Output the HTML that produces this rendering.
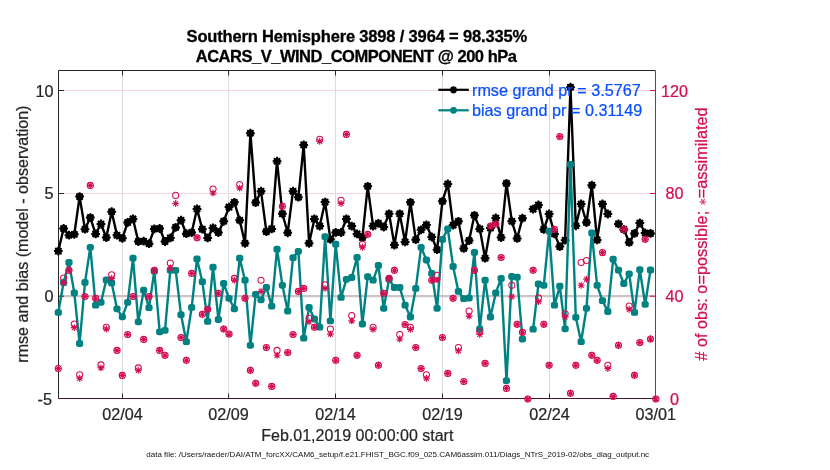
<!DOCTYPE html><html><head><meta charset="utf-8"><title>obs diag</title>
<style>html,body{margin:0;padding:0;background:#fff}svg{display:block}text{font-family:"Liberation Sans",sans-serif}</style></head><body>
<svg width="830" height="470" viewBox="0 0 830 470">
<rect width="830" height="470" fill="#fff"/>
<line x1="122.50" y1="70.5" x2="122.50" y2="398.5" stroke="#dcdcdc" stroke-width="1"/><line x1="228.60" y1="70.5" x2="228.60" y2="398.5" stroke="#dcdcdc" stroke-width="1"/><line x1="335.50" y1="70.5" x2="335.50" y2="398.5" stroke="#dcdcdc" stroke-width="1"/><line x1="442.50" y1="70.5" x2="442.50" y2="398.5" stroke="#dcdcdc" stroke-width="1"/><line x1="549.50" y1="70.5" x2="549.50" y2="398.5" stroke="#dcdcdc" stroke-width="1"/><line x1="58.5" y1="90.5" x2="655.5" y2="90.5" stroke="#f7d3df" stroke-width="1"/><line x1="58.5" y1="193.5" x2="655.5" y2="193.5" stroke="#f7d3df" stroke-width="1"/>
<line x1="58.5" y1="296.1" x2="655.5" y2="296.1" stroke="#cdc3c7" stroke-width="2.2"/>
<path d="M58.5 398.5V70.5H655.5" stroke="#262626" stroke-width="1" fill="none"/>
<line x1="58.5" y1="90.5" x2="64.0" y2="90.5" stroke="#262626" stroke-width="1"/>
<line x1="58.5" y1="193.5" x2="64.0" y2="193.5" stroke="#262626" stroke-width="1"/>
<line x1="58.5" y1="296.2" x2="64.0" y2="296.2" stroke="#262626" stroke-width="1"/>
<line x1="122.50" y1="70.5" x2="122.50" y2="75.5" stroke="#262626" stroke-width="1"/>
<line x1="122.50" y1="398.5" x2="122.50" y2="393.5" stroke="#262626" stroke-width="1"/>
<line x1="228.60" y1="70.5" x2="228.60" y2="75.5" stroke="#262626" stroke-width="1"/>
<line x1="228.60" y1="398.5" x2="228.60" y2="393.5" stroke="#262626" stroke-width="1"/>
<line x1="335.50" y1="70.5" x2="335.50" y2="75.5" stroke="#262626" stroke-width="1"/>
<line x1="335.50" y1="398.5" x2="335.50" y2="393.5" stroke="#262626" stroke-width="1"/>
<line x1="442.50" y1="70.5" x2="442.50" y2="75.5" stroke="#262626" stroke-width="1"/>
<line x1="442.50" y1="398.5" x2="442.50" y2="393.5" stroke="#262626" stroke-width="1"/>
<line x1="549.50" y1="70.5" x2="549.50" y2="75.5" stroke="#262626" stroke-width="1"/>
<line x1="549.50" y1="398.5" x2="549.50" y2="393.5" stroke="#262626" stroke-width="1"/>
<g><path d="M58.3 251.1L63.6 228.5L69.0 235.2L74.3 234.3L79.6 196.6L85.0 229.2L90.3 217.6L95.6 233.9L101.0 224.0L106.3 237.5L111.7 211.7L117.0 235.2L122.3 238.3L127.7 222.5L133.0 218.9L138.3 241.5L143.7 241.2L149.0 243.7L154.3 228.9L159.7 228.5L165.0 241.5L170.3 237.9L175.7 227.4L181.0 220.2L186.3 233.7L191.7 232.5L197.0 208.9L202.3 229.2L207.7 237.9L213.0 227.9L218.4 232.5L223.7 221.3L229.0 207.1L234.4 202.3L239.7 220.2L245.0 243.3L250.4 133.2L255.7 202.6L261.0 191.2L266.4 231.6L271.7 228.9L277.0 161.2L282.4 213.8L287.7 232.8L293.0 191.2L298.4 197.2L303.7 144.9L309.1 243.3L314.4 218.9L319.7 226.1L325.1 202.1L330.4 239.3L335.7 232.5L341.1 232.5L346.4 218.9L351.7 226.1L357.1 233.9L362.4 237.5L367.7 186.3L373.1 226.1L378.4 223.4L383.7 227.0L389.1 213.8L394.4 245.1L399.7 213.8L405.1 241.9L410.4 202.3L415.8 239.7L421.1 229.8L426.4 224.9L431.8 237.0L437.1 249.7L442.4 201.3L447.8 184.0L453.1 225.2L458.4 221.3L463.8 248.4L469.1 240.6L474.4 215.3L479.8 228.9L485.1 258.2L490.4 228.0L495.8 218.0L501.1 237.5L506.5 183.4L511.8 221.2L517.1 238.4L522.5 218.2M533.1 209.1L538.5 205.0L543.8 229.4L549.1 214.0L554.5 233.9L559.8 246.6L565.1 240.2L570.5 87.2L575.8 225.8L581.1 204.0L586.5 222.5L591.8 185.2L597.1 239.9L602.5 204.0L607.8 214.0M618.5 223.9L623.8 229.4L629.2 242.4L634.5 233.4L639.8 223.0L645.2 233.0L650.5 233.4" stroke="#000" stroke-width="2.4" fill="none" stroke-linejoin="round"/>
<path d="M53.90 251.10H62.70M58.30 246.70V255.50M55.19 247.99L61.41 254.21M55.19 254.21L61.41 247.99" stroke="#000" stroke-width="2.0" fill="none"/><circle cx="58.30" cy="251.10" r="3.52" fill="#000"/>
<path d="M59.24 228.50H68.04M63.64 224.10V232.90M60.52 225.39L66.75 231.61M60.52 231.61L66.75 225.39" stroke="#000" stroke-width="2.0" fill="none"/><circle cx="63.64" cy="228.50" r="3.52" fill="#000"/>
<path d="M64.57 235.20H73.37M68.97 230.80V239.60M65.86 232.09L72.08 238.31M65.86 238.31L72.08 232.09" stroke="#000" stroke-width="2.0" fill="none"/><circle cx="68.97" cy="235.20" r="3.52" fill="#000"/>
<path d="M69.91 234.30H78.71M74.31 229.90V238.70M71.19 231.19L77.42 237.41M71.19 237.41L77.42 231.19" stroke="#000" stroke-width="2.0" fill="none"/><circle cx="74.31" cy="234.30" r="3.52" fill="#000"/>
<path d="M75.24 196.60H84.04M79.64 192.20V201.00M76.53 193.49L82.75 199.71M76.53 199.71L82.75 193.49" stroke="#000" stroke-width="2.0" fill="none"/><circle cx="79.64" cy="196.60" r="3.52" fill="#000"/>
<path d="M80.58 229.20H89.38M84.98 224.80V233.60M81.86 226.09L88.09 232.31M81.86 232.31L88.09 226.09" stroke="#000" stroke-width="2.0" fill="none"/><circle cx="84.98" cy="229.20" r="3.52" fill="#000"/>
<path d="M85.91 217.60H94.71M90.31 213.20V222.00M87.20 214.49L93.42 220.71M87.20 220.71L93.42 214.49" stroke="#000" stroke-width="2.0" fill="none"/><circle cx="90.31" cy="217.60" r="3.52" fill="#000"/>
<path d="M91.25 233.90H100.05M95.65 229.50V238.30M92.53 230.79L98.76 237.01M92.53 237.01L98.76 230.79" stroke="#000" stroke-width="2.0" fill="none"/><circle cx="95.65" cy="233.90" r="3.52" fill="#000"/>
<path d="M96.58 224.00H105.38M100.98 219.60V228.40M97.87 220.89L104.09 227.11M97.87 227.11L104.09 220.89" stroke="#000" stroke-width="2.0" fill="none"/><circle cx="100.98" cy="224.00" r="3.52" fill="#000"/>
<path d="M101.92 237.50H110.72M106.32 233.10V241.90M103.20 234.39L109.43 240.61M103.20 240.61L109.43 234.39" stroke="#000" stroke-width="2.0" fill="none"/><circle cx="106.32" cy="237.50" r="3.52" fill="#000"/>
<path d="M107.25 211.70H116.05M111.65 207.30V216.10M108.54 208.59L114.76 214.81M108.54 214.81L114.76 208.59" stroke="#000" stroke-width="2.0" fill="none"/><circle cx="111.65" cy="211.70" r="3.52" fill="#000"/>
<path d="M112.59 235.20H121.39M116.99 230.80V239.60M113.88 232.09L120.10 238.31M113.88 238.31L120.10 232.09" stroke="#000" stroke-width="2.0" fill="none"/><circle cx="116.99" cy="235.20" r="3.52" fill="#000"/>
<path d="M117.92 238.30H126.72M122.32 233.90V242.70M119.21 235.19L125.43 241.41M119.21 241.41L125.43 235.19" stroke="#000" stroke-width="2.0" fill="none"/><circle cx="122.32" cy="238.30" r="3.52" fill="#000"/>
<path d="M123.26 222.50H132.06M127.66 218.10V226.90M124.55 219.39L130.77 225.61M124.55 225.61L130.77 219.39" stroke="#000" stroke-width="2.0" fill="none"/><circle cx="127.66" cy="222.50" r="3.52" fill="#000"/>
<path d="M128.59 218.90H137.39M132.99 214.50V223.30M129.88 215.79L136.10 222.01M129.88 222.01L136.10 215.79" stroke="#000" stroke-width="2.0" fill="none"/><circle cx="132.99" cy="218.90" r="3.52" fill="#000"/>
<path d="M133.93 241.50H142.73M138.33 237.10V245.90M135.22 238.39L141.44 244.61M135.22 244.61L141.44 238.39" stroke="#000" stroke-width="2.0" fill="none"/><circle cx="138.33" cy="241.50" r="3.52" fill="#000"/>
<path d="M139.26 241.20H148.06M143.66 236.80V245.60M140.55 238.09L146.77 244.31M140.55 244.31L146.77 238.09" stroke="#000" stroke-width="2.0" fill="none"/><circle cx="143.66" cy="241.20" r="3.52" fill="#000"/>
<path d="M144.60 243.70H153.40M149.00 239.30V248.10M145.89 240.59L152.11 246.81M145.89 246.81L152.11 240.59" stroke="#000" stroke-width="2.0" fill="none"/><circle cx="149.00" cy="243.70" r="3.52" fill="#000"/>
<path d="M149.93 228.90H158.73M154.33 224.50V233.30M151.22 225.79L157.44 232.01M151.22 232.01L157.44 225.79" stroke="#000" stroke-width="2.0" fill="none"/><circle cx="154.33" cy="228.90" r="3.52" fill="#000"/>
<path d="M155.27 228.50H164.07M159.67 224.10V232.90M156.56 225.39L162.78 231.61M156.56 231.61L162.78 225.39" stroke="#000" stroke-width="2.0" fill="none"/><circle cx="159.67" cy="228.50" r="3.52" fill="#000"/>
<path d="M160.60 241.50H169.40M165.00 237.10V245.90M161.89 238.39L168.11 244.61M161.89 244.61L168.11 238.39" stroke="#000" stroke-width="2.0" fill="none"/><circle cx="165.00" cy="241.50" r="3.52" fill="#000"/>
<path d="M165.94 237.90H174.74M170.34 233.50V242.30M167.23 234.79L173.45 241.01M167.23 241.01L173.45 234.79" stroke="#000" stroke-width="2.0" fill="none"/><circle cx="170.34" cy="237.90" r="3.52" fill="#000"/>
<path d="M171.27 227.40H180.07M175.67 223.00V231.80M172.56 224.29L178.78 230.51M172.56 230.51L178.78 224.29" stroke="#000" stroke-width="2.0" fill="none"/><circle cx="175.67" cy="227.40" r="3.52" fill="#000"/>
<path d="M176.61 220.20H185.41M181.01 215.80V224.60M177.90 217.09L184.12 223.31M177.90 223.31L184.12 217.09" stroke="#000" stroke-width="2.0" fill="none"/><circle cx="181.01" cy="220.20" r="3.52" fill="#000"/>
<path d="M181.94 233.70H190.74M186.34 229.30V238.10M183.23 230.59L189.45 236.81M183.23 236.81L189.45 230.59" stroke="#000" stroke-width="2.0" fill="none"/><circle cx="186.34" cy="233.70" r="3.52" fill="#000"/>
<path d="M187.28 232.50H196.08M191.68 228.10V236.90M188.57 229.39L194.79 235.61M188.57 235.61L194.79 229.39" stroke="#000" stroke-width="2.0" fill="none"/><circle cx="191.68" cy="232.50" r="3.52" fill="#000"/>
<path d="M192.61 208.90H201.41M197.01 204.50V213.30M193.90 205.79L200.12 212.01M193.90 212.01L200.12 205.79" stroke="#000" stroke-width="2.0" fill="none"/><circle cx="197.01" cy="208.90" r="3.52" fill="#000"/>
<path d="M197.95 229.20H206.75M202.35 224.80V233.60M199.24 226.09L205.46 232.31M199.24 232.31L205.46 226.09" stroke="#000" stroke-width="2.0" fill="none"/><circle cx="202.35" cy="229.20" r="3.52" fill="#000"/>
<path d="M203.28 237.90H212.08M207.68 233.50V242.30M204.57 234.79L210.80 241.01M204.57 241.01L210.80 234.79" stroke="#000" stroke-width="2.0" fill="none"/><circle cx="207.68" cy="237.90" r="3.52" fill="#000"/>
<path d="M208.62 227.90H217.42M213.02 223.50V232.30M209.91 224.79L216.13 231.01M209.91 231.01L216.13 224.79" stroke="#000" stroke-width="2.0" fill="none"/><circle cx="213.02" cy="227.90" r="3.52" fill="#000"/>
<path d="M213.95 232.50H222.75M218.35 228.10V236.90M215.24 229.39L221.47 235.61M215.24 235.61L221.47 229.39" stroke="#000" stroke-width="2.0" fill="none"/><circle cx="218.35" cy="232.50" r="3.52" fill="#000"/>
<path d="M219.29 221.30H228.09M223.69 216.90V225.70M220.58 218.19L226.80 224.41M220.58 224.41L226.80 218.19" stroke="#000" stroke-width="2.0" fill="none"/><circle cx="223.69" cy="221.30" r="3.52" fill="#000"/>
<path d="M224.62 207.10H233.42M229.02 202.70V211.50M225.91 203.99L232.14 210.21M225.91 210.21L232.14 203.99" stroke="#000" stroke-width="2.0" fill="none"/><circle cx="229.02" cy="207.10" r="3.52" fill="#000"/>
<path d="M229.96 202.30H238.76M234.36 197.90V206.70M231.25 199.19L237.47 205.41M231.25 205.41L237.47 199.19" stroke="#000" stroke-width="2.0" fill="none"/><circle cx="234.36" cy="202.30" r="3.52" fill="#000"/>
<path d="M235.29 220.20H244.09M239.69 215.80V224.60M236.58 217.09L242.81 223.31M236.58 223.31L242.81 217.09" stroke="#000" stroke-width="2.0" fill="none"/><circle cx="239.69" cy="220.20" r="3.52" fill="#000"/>
<path d="M240.63 243.30H249.43M245.03 238.90V247.70M241.92 240.19L248.14 246.41M241.92 246.41L248.14 240.19" stroke="#000" stroke-width="2.0" fill="none"/><circle cx="245.03" cy="243.30" r="3.52" fill="#000"/>
<path d="M245.96 133.20H254.76M250.36 128.80V137.60M247.25 130.09L253.48 136.31M247.25 136.31L253.48 130.09" stroke="#000" stroke-width="2.0" fill="none"/><circle cx="250.36" cy="133.20" r="3.52" fill="#000"/>
<path d="M251.30 202.60H260.10M255.70 198.20V207.00M252.59 199.49L258.81 205.71M252.59 205.71L258.81 199.49" stroke="#000" stroke-width="2.0" fill="none"/><circle cx="255.70" cy="202.60" r="3.52" fill="#000"/>
<path d="M256.64 191.20H265.44M261.04 186.80V195.60M257.92 188.09L264.15 194.31M257.92 194.31L264.15 188.09" stroke="#000" stroke-width="2.0" fill="none"/><circle cx="261.04" cy="191.20" r="3.52" fill="#000"/>
<path d="M261.97 231.60H270.77M266.37 227.20V236.00M263.26 228.49L269.48 234.71M263.26 234.71L269.48 228.49" stroke="#000" stroke-width="2.0" fill="none"/><circle cx="266.37" cy="231.60" r="3.52" fill="#000"/>
<path d="M267.31 228.90H276.11M271.71 224.50V233.30M268.59 225.79L274.82 232.01M268.59 232.01L274.82 225.79" stroke="#000" stroke-width="2.0" fill="none"/><circle cx="271.71" cy="228.90" r="3.52" fill="#000"/>
<path d="M272.64 161.20H281.44M277.04 156.80V165.60M273.93 158.09L280.15 164.31M273.93 164.31L280.15 158.09" stroke="#000" stroke-width="2.0" fill="none"/><circle cx="277.04" cy="161.20" r="3.52" fill="#000"/>
<path d="M277.98 213.80H286.78M282.38 209.40V218.20M279.26 210.69L285.49 216.91M279.26 216.91L285.49 210.69" stroke="#000" stroke-width="2.0" fill="none"/><circle cx="282.38" cy="213.80" r="3.52" fill="#000"/>
<path d="M283.31 232.80H292.11M287.71 228.40V237.20M284.60 229.69L290.82 235.91M284.60 235.91L290.82 229.69" stroke="#000" stroke-width="2.0" fill="none"/><circle cx="287.71" cy="232.80" r="3.52" fill="#000"/>
<path d="M288.65 191.20H297.45M293.05 186.80V195.60M289.93 188.09L296.16 194.31M289.93 194.31L296.16 188.09" stroke="#000" stroke-width="2.0" fill="none"/><circle cx="293.05" cy="191.20" r="3.52" fill="#000"/>
<path d="M293.98 197.20H302.78M298.38 192.80V201.60M295.27 194.09L301.49 200.31M295.27 200.31L301.49 194.09" stroke="#000" stroke-width="2.0" fill="none"/><circle cx="298.38" cy="197.20" r="3.52" fill="#000"/>
<path d="M299.32 144.90H308.12M303.72 140.50V149.30M300.60 141.79L306.83 148.01M300.60 148.01L306.83 141.79" stroke="#000" stroke-width="2.0" fill="none"/><circle cx="303.72" cy="144.90" r="3.52" fill="#000"/>
<path d="M304.65 243.30H313.45M309.05 238.90V247.70M305.94 240.19L312.16 246.41M305.94 246.41L312.16 240.19" stroke="#000" stroke-width="2.0" fill="none"/><circle cx="309.05" cy="243.30" r="3.52" fill="#000"/>
<path d="M309.99 218.90H318.79M314.39 214.50V223.30M311.28 215.79L317.50 222.01M311.28 222.01L317.50 215.79" stroke="#000" stroke-width="2.0" fill="none"/><circle cx="314.39" cy="218.90" r="3.52" fill="#000"/>
<path d="M315.32 226.10H324.12M319.72 221.70V230.50M316.61 222.99L322.83 229.21M316.61 229.21L322.83 222.99" stroke="#000" stroke-width="2.0" fill="none"/><circle cx="319.72" cy="226.10" r="3.52" fill="#000"/>
<path d="M320.66 202.10H329.46M325.06 197.70V206.50M321.95 198.99L328.17 205.21M321.95 205.21L328.17 198.99" stroke="#000" stroke-width="2.0" fill="none"/><circle cx="325.06" cy="202.10" r="3.52" fill="#000"/>
<path d="M325.99 239.30H334.79M330.39 234.90V243.70M327.28 236.19L333.50 242.41M327.28 242.41L333.50 236.19" stroke="#000" stroke-width="2.0" fill="none"/><circle cx="330.39" cy="239.30" r="3.52" fill="#000"/>
<path d="M331.33 232.50H340.13M335.73 228.10V236.90M332.62 229.39L338.84 235.61M332.62 235.61L338.84 229.39" stroke="#000" stroke-width="2.0" fill="none"/><circle cx="335.73" cy="232.50" r="3.52" fill="#000"/>
<path d="M336.66 232.50H345.46M341.06 228.10V236.90M337.95 229.39L344.17 235.61M337.95 235.61L344.17 229.39" stroke="#000" stroke-width="2.0" fill="none"/><circle cx="341.06" cy="232.50" r="3.52" fill="#000"/>
<path d="M342.00 218.90H350.80M346.40 214.50V223.30M343.29 215.79L349.51 222.01M343.29 222.01L349.51 215.79" stroke="#000" stroke-width="2.0" fill="none"/><circle cx="346.40" cy="218.90" r="3.52" fill="#000"/>
<path d="M347.33 226.10H356.13M351.73 221.70V230.50M348.62 222.99L354.84 229.21M348.62 229.21L354.84 222.99" stroke="#000" stroke-width="2.0" fill="none"/><circle cx="351.73" cy="226.10" r="3.52" fill="#000"/>
<path d="M352.67 233.90H361.47M357.07 229.50V238.30M353.96 230.79L360.18 237.01M353.96 237.01L360.18 230.79" stroke="#000" stroke-width="2.0" fill="none"/><circle cx="357.07" cy="233.90" r="3.52" fill="#000"/>
<path d="M358.00 237.50H366.80M362.40 233.10V241.90M359.29 234.39L365.51 240.61M359.29 240.61L365.51 234.39" stroke="#000" stroke-width="2.0" fill="none"/><circle cx="362.40" cy="237.50" r="3.52" fill="#000"/>
<path d="M363.34 186.30H372.14M367.74 181.90V190.70M364.63 183.19L370.85 189.41M364.63 189.41L370.85 183.19" stroke="#000" stroke-width="2.0" fill="none"/><circle cx="367.74" cy="186.30" r="3.52" fill="#000"/>
<path d="M368.67 226.10H377.47M373.07 221.70V230.50M369.96 222.99L376.18 229.21M369.96 229.21L376.18 222.99" stroke="#000" stroke-width="2.0" fill="none"/><circle cx="373.07" cy="226.10" r="3.52" fill="#000"/>
<path d="M374.01 223.40H382.81M378.41 219.00V227.80M375.30 220.29L381.52 226.51M375.30 226.51L381.52 220.29" stroke="#000" stroke-width="2.0" fill="none"/><circle cx="378.41" cy="223.40" r="3.52" fill="#000"/>
<path d="M379.34 227.00H388.14M383.74 222.60V231.40M380.63 223.89L386.85 230.11M380.63 230.11L386.85 223.89" stroke="#000" stroke-width="2.0" fill="none"/><circle cx="383.74" cy="227.00" r="3.52" fill="#000"/>
<path d="M384.68 213.80H393.48M389.08 209.40V218.20M385.97 210.69L392.19 216.91M385.97 216.91L392.19 210.69" stroke="#000" stroke-width="2.0" fill="none"/><circle cx="389.08" cy="213.80" r="3.52" fill="#000"/>
<path d="M390.01 245.10H398.81M394.41 240.70V249.50M391.30 241.99L397.52 248.21M391.30 248.21L397.52 241.99" stroke="#000" stroke-width="2.0" fill="none"/><circle cx="394.41" cy="245.10" r="3.52" fill="#000"/>
<path d="M395.35 213.80H404.15M399.75 209.40V218.20M396.64 210.69L402.86 216.91M396.64 216.91L402.86 210.69" stroke="#000" stroke-width="2.0" fill="none"/><circle cx="399.75" cy="213.80" r="3.52" fill="#000"/>
<path d="M400.68 241.90H409.48M405.08 237.50V246.30M401.97 238.79L408.20 245.01M401.97 245.01L408.20 238.79" stroke="#000" stroke-width="2.0" fill="none"/><circle cx="405.08" cy="241.90" r="3.52" fill="#000"/>
<path d="M406.02 202.30H414.82M410.42 197.90V206.70M407.31 199.19L413.53 205.41M407.31 205.41L413.53 199.19" stroke="#000" stroke-width="2.0" fill="none"/><circle cx="410.42" cy="202.30" r="3.52" fill="#000"/>
<path d="M411.35 239.70H420.15M415.75 235.30V244.10M412.64 236.59L418.87 242.81M412.64 242.81L418.87 236.59" stroke="#000" stroke-width="2.0" fill="none"/><circle cx="415.75" cy="239.70" r="3.52" fill="#000"/>
<path d="M416.69 229.80H425.49M421.09 225.40V234.20M417.98 226.69L424.20 232.91M417.98 232.91L424.20 226.69" stroke="#000" stroke-width="2.0" fill="none"/><circle cx="421.09" cy="229.80" r="3.52" fill="#000"/>
<path d="M422.02 224.90H430.82M426.42 220.50V229.30M423.31 221.79L429.54 228.01M423.31 228.01L429.54 221.79" stroke="#000" stroke-width="2.0" fill="none"/><circle cx="426.42" cy="224.90" r="3.52" fill="#000"/>
<path d="M427.36 237.00H436.16M431.76 232.60V241.40M428.65 233.89L434.87 240.11M428.65 240.11L434.87 233.89" stroke="#000" stroke-width="2.0" fill="none"/><circle cx="431.76" cy="237.00" r="3.52" fill="#000"/>
<path d="M432.69 249.70H441.49M437.09 245.30V254.10M433.98 246.59L440.21 252.81M433.98 252.81L440.21 246.59" stroke="#000" stroke-width="2.0" fill="none"/><circle cx="437.09" cy="249.70" r="3.52" fill="#000"/>
<path d="M438.03 201.30H446.83M442.43 196.90V205.70M439.32 198.19L445.54 204.41M439.32 204.41L445.54 198.19" stroke="#000" stroke-width="2.0" fill="none"/><circle cx="442.43" cy="201.30" r="3.52" fill="#000"/>
<path d="M443.36 184.00H452.16M447.76 179.60V188.40M444.65 180.89L450.88 187.11M444.65 187.11L450.88 180.89" stroke="#000" stroke-width="2.0" fill="none"/><circle cx="447.76" cy="184.00" r="3.52" fill="#000"/>
<path d="M448.70 225.20H457.50M453.10 220.80V229.60M449.99 222.09L456.21 228.31M449.99 228.31L456.21 222.09" stroke="#000" stroke-width="2.0" fill="none"/><circle cx="453.10" cy="225.20" r="3.52" fill="#000"/>
<path d="M454.04 221.30H462.84M458.44 216.90V225.70M455.32 218.19L461.55 224.41M455.32 224.41L461.55 218.19" stroke="#000" stroke-width="2.0" fill="none"/><circle cx="458.44" cy="221.30" r="3.52" fill="#000"/>
<path d="M459.37 248.40H468.17M463.77 244.00V252.80M460.66 245.29L466.88 251.51M460.66 251.51L466.88 245.29" stroke="#000" stroke-width="2.0" fill="none"/><circle cx="463.77" cy="248.40" r="3.52" fill="#000"/>
<path d="M464.71 240.60H473.51M469.11 236.20V245.00M465.99 237.49L472.22 243.71M465.99 243.71L472.22 237.49" stroke="#000" stroke-width="2.0" fill="none"/><circle cx="469.11" cy="240.60" r="3.52" fill="#000"/>
<path d="M470.04 215.30H478.84M474.44 210.90V219.70M471.33 212.19L477.55 218.41M471.33 218.41L477.55 212.19" stroke="#000" stroke-width="2.0" fill="none"/><circle cx="474.44" cy="215.30" r="3.52" fill="#000"/>
<path d="M475.38 228.90H484.18M479.78 224.50V233.30M476.66 225.79L482.89 232.01M476.66 232.01L482.89 225.79" stroke="#000" stroke-width="2.0" fill="none"/><circle cx="479.78" cy="228.90" r="3.52" fill="#000"/>
<path d="M480.71 258.20H489.51M485.11 253.80V262.60M482.00 255.09L488.22 261.31M482.00 261.31L488.22 255.09" stroke="#000" stroke-width="2.0" fill="none"/><circle cx="485.11" cy="258.20" r="3.52" fill="#000"/>
<path d="M486.05 228.00H494.85M490.45 223.60V232.40M487.33 224.89L493.56 231.11M487.33 231.11L493.56 224.89" stroke="#000" stroke-width="2.0" fill="none"/><circle cx="490.45" cy="228.00" r="3.52" fill="#000"/>
<path d="M491.38 218.00H500.18M495.78 213.60V222.40M492.67 214.89L498.89 221.11M492.67 221.11L498.89 214.89" stroke="#000" stroke-width="2.0" fill="none"/><circle cx="495.78" cy="218.00" r="3.52" fill="#000"/>
<path d="M496.72 237.50H505.52M501.12 233.10V241.90M498.00 234.39L504.23 240.61M498.00 240.61L504.23 234.39" stroke="#000" stroke-width="2.0" fill="none"/><circle cx="501.12" cy="237.50" r="3.52" fill="#000"/>
<path d="M502.05 183.40H510.85M506.45 179.00V187.80M503.34 180.29L509.56 186.51M503.34 186.51L509.56 180.29" stroke="#000" stroke-width="2.0" fill="none"/><circle cx="506.45" cy="183.40" r="3.52" fill="#000"/>
<path d="M507.39 221.20H516.19M511.79 216.80V225.60M508.68 218.09L514.90 224.31M508.68 224.31L514.90 218.09" stroke="#000" stroke-width="2.0" fill="none"/><circle cx="511.79" cy="221.20" r="3.52" fill="#000"/>
<path d="M512.72 238.40H521.52M517.12 234.00V242.80M514.01 235.29L520.23 241.51M514.01 241.51L520.23 235.29" stroke="#000" stroke-width="2.0" fill="none"/><circle cx="517.12" cy="238.40" r="3.52" fill="#000"/>
<path d="M518.06 218.20H526.86M522.46 213.80V222.60M519.35 215.09L525.57 221.31M519.35 221.31L525.57 215.09" stroke="#000" stroke-width="2.0" fill="none"/><circle cx="522.46" cy="218.20" r="3.52" fill="#000"/>
<path d="M528.73 209.10H537.53M533.13 204.70V213.50M530.02 205.99L536.24 212.21M530.02 212.21L536.24 205.99" stroke="#000" stroke-width="2.0" fill="none"/><circle cx="533.13" cy="209.10" r="3.52" fill="#000"/>
<path d="M534.06 205.00H542.86M538.46 200.60V209.40M535.35 201.89L541.57 208.11M535.35 208.11L541.57 201.89" stroke="#000" stroke-width="2.0" fill="none"/><circle cx="538.46" cy="205.00" r="3.52" fill="#000"/>
<path d="M539.40 229.40H548.20M543.80 225.00V233.80M540.69 226.29L546.91 232.51M540.69 232.51L546.91 226.29" stroke="#000" stroke-width="2.0" fill="none"/><circle cx="543.80" cy="229.40" r="3.52" fill="#000"/>
<path d="M544.73 214.00H553.53M549.13 209.60V218.40M546.02 210.89L552.24 217.11M546.02 217.11L552.24 210.89" stroke="#000" stroke-width="2.0" fill="none"/><circle cx="549.13" cy="214.00" r="3.52" fill="#000"/>
<path d="M550.07 233.90H558.87M554.47 229.50V238.30M551.36 230.79L557.58 237.01M551.36 237.01L557.58 230.79" stroke="#000" stroke-width="2.0" fill="none"/><circle cx="554.47" cy="233.90" r="3.52" fill="#000"/>
<path d="M555.40 246.60H564.20M559.80 242.20V251.00M556.69 243.49L562.91 249.71M556.69 249.71L562.91 243.49" stroke="#000" stroke-width="2.0" fill="none"/><circle cx="559.80" cy="246.60" r="3.52" fill="#000"/>
<path d="M560.74 240.20H569.54M565.14 235.80V244.60M562.03 237.09L568.25 243.31M562.03 243.31L568.25 237.09" stroke="#000" stroke-width="2.0" fill="none"/><circle cx="565.14" cy="240.20" r="3.52" fill="#000"/>
<path d="M566.07 87.20H574.87M570.47 82.80V91.60M567.36 84.09L573.58 90.31M567.36 90.31L573.58 84.09" stroke="#000" stroke-width="2.0" fill="none"/><circle cx="570.47" cy="87.20" r="3.52" fill="#000"/>
<path d="M571.41 225.80H580.21M575.81 221.40V230.20M572.70 222.69L578.92 228.91M572.70 228.91L578.92 222.69" stroke="#000" stroke-width="2.0" fill="none"/><circle cx="575.81" cy="225.80" r="3.52" fill="#000"/>
<path d="M576.74 204.00H585.54M581.14 199.60V208.40M578.03 200.89L584.25 207.11M578.03 207.11L584.25 200.89" stroke="#000" stroke-width="2.0" fill="none"/><circle cx="581.14" cy="204.00" r="3.52" fill="#000"/>
<path d="M582.08 222.50H590.88M586.48 218.10V226.90M583.37 219.39L589.59 225.61M583.37 225.61L589.59 219.39" stroke="#000" stroke-width="2.0" fill="none"/><circle cx="586.48" cy="222.50" r="3.52" fill="#000"/>
<path d="M587.41 185.20H596.21M591.81 180.80V189.60M588.70 182.09L594.92 188.31M588.70 188.31L594.92 182.09" stroke="#000" stroke-width="2.0" fill="none"/><circle cx="591.81" cy="185.20" r="3.52" fill="#000"/>
<path d="M592.75 239.90H601.55M597.15 235.50V244.30M594.04 236.79L600.26 243.01M594.04 243.01L600.26 236.79" stroke="#000" stroke-width="2.0" fill="none"/><circle cx="597.15" cy="239.90" r="3.52" fill="#000"/>
<path d="M598.08 204.00H606.88M602.48 199.60V208.40M599.37 200.89L605.60 207.11M599.37 207.11L605.60 200.89" stroke="#000" stroke-width="2.0" fill="none"/><circle cx="602.48" cy="204.00" r="3.52" fill="#000"/>
<path d="M603.42 214.00H612.22M607.82 209.60V218.40M604.71 210.89L610.93 217.11M604.71 217.11L610.93 210.89" stroke="#000" stroke-width="2.0" fill="none"/><circle cx="607.82" cy="214.00" r="3.52" fill="#000"/>
<path d="M614.09 223.90H622.89M618.49 219.50V228.30M615.38 220.79L621.60 227.01M615.38 227.01L621.60 220.79" stroke="#000" stroke-width="2.0" fill="none"/><circle cx="618.49" cy="223.90" r="3.52" fill="#000"/>
<path d="M619.42 229.40H628.22M623.82 225.00V233.80M620.71 226.29L626.94 232.51M620.71 232.51L626.94 226.29" stroke="#000" stroke-width="2.0" fill="none"/><circle cx="623.82" cy="229.40" r="3.52" fill="#000"/>
<path d="M624.76 242.40H633.56M629.16 238.00V246.80M626.05 239.29L632.27 245.51M626.05 245.51L632.27 239.29" stroke="#000" stroke-width="2.0" fill="none"/><circle cx="629.16" cy="242.40" r="3.52" fill="#000"/>
<path d="M630.09 233.40H638.89M634.49 229.00V237.80M631.38 230.29L637.61 236.51M631.38 236.51L637.61 230.29" stroke="#000" stroke-width="2.0" fill="none"/><circle cx="634.49" cy="233.40" r="3.52" fill="#000"/>
<path d="M635.43 223.00H644.23M639.83 218.60V227.40M636.72 219.89L642.94 226.11M636.72 226.11L642.94 219.89" stroke="#000" stroke-width="2.0" fill="none"/><circle cx="639.83" cy="223.00" r="3.52" fill="#000"/>
<path d="M640.76 233.00H649.56M645.16 228.60V237.40M642.05 229.89L648.28 236.11M642.05 236.11L648.28 229.89" stroke="#000" stroke-width="2.0" fill="none"/><circle cx="645.16" cy="233.00" r="3.52" fill="#000"/>
<path d="M646.10 233.40H654.90M650.50 229.00V237.80M647.39 230.29L653.61 236.51M647.39 236.51L653.61 230.29" stroke="#000" stroke-width="2.0" fill="none"/><circle cx="650.50" cy="233.40" r="3.52" fill="#000"/>
</g>
<g><path d="M58.3 312.4L63.6 282.5L69.0 262.5L74.3 292.9L79.6 343.5L85.0 282.4L90.3 247.3L95.6 305.2L101.0 302.3L106.3 279.9L111.7 283.0L117.0 308.8L122.3 316.8L127.7 302.3L133.0 258.2L138.3 321.8L143.7 290.2L149.0 307.7L154.3 271.2L159.7 331.8L165.0 330.3L170.3 270.3L175.7 270.3L181.0 314.6L186.3 341.7L191.7 307.4L197.0 258.9L202.3 281.7L207.7 321.4L213.0 267.2L218.4 319.5L223.7 283.5L229.0 298.3L234.4 308.8L239.7 258.2L245.0 280.2L250.4 345.3L255.7 294.3L261.0 299.8L266.4 287.5L271.7 306.1L277.0 249.1L282.4 285.3L287.7 311.0L293.0 257.6L298.4 251.3L303.7 338.1L309.1 307.4L314.4 319.0L319.7 327.2L325.1 236.6L330.4 320.9L335.7 244.1L341.1 297.4L346.4 279.3L351.7 277.5L357.1 257.5L362.4 324.0L367.7 276.6L373.1 280.2L378.4 265.5L383.7 308.3L389.1 279.3L394.4 287.5L399.7 287.5L405.1 305.2L410.4 317.0L415.8 288.4L421.1 247.3L426.4 260.0L431.8 273.4L437.1 308.3L442.4 239.4L447.8 228.9L453.1 266.5L458.4 291.4L463.8 298.7L469.1 298.0L474.4 252.5L479.8 329.0L485.1 280.2L490.4 317.0L495.8 292.9L501.1 278.4L506.5 380.6L511.8 276.5L517.1 277.2L522.5 339.0M533.1 329.1L538.5 284.0L543.8 285.3L549.1 231.2L554.5 305.2L559.8 286.2L565.1 328.8L570.5 164.4L575.8 317.3L581.1 341.7L586.5 308.3L591.8 233.0L597.1 285.3L602.5 300.7L607.8 311.5L613.2 259.1L618.5 270.2L623.8 283.5L629.2 273.8L634.5 312.4L639.8 269.7L645.2 304.3L650.5 270.0" stroke="#008282" stroke-width="2.4" fill="none" stroke-linejoin="round"/>
<rect x="54.70" y="309.00" width="7.2" height="6.8" rx="2.6" fill="#008282"/>
<rect x="60.04" y="279.10" width="7.2" height="6.8" rx="2.6" fill="#008282"/>
<rect x="65.37" y="259.10" width="7.2" height="6.8" rx="2.6" fill="#008282"/>
<rect x="70.71" y="289.50" width="7.2" height="6.8" rx="2.6" fill="#008282"/>
<rect x="76.04" y="340.10" width="7.2" height="6.8" rx="2.6" fill="#008282"/>
<rect x="81.38" y="279.00" width="7.2" height="6.8" rx="2.6" fill="#008282"/>
<rect x="86.71" y="243.90" width="7.2" height="6.8" rx="2.6" fill="#008282"/>
<rect x="92.05" y="301.80" width="7.2" height="6.8" rx="2.6" fill="#008282"/>
<rect x="97.38" y="298.90" width="7.2" height="6.8" rx="2.6" fill="#008282"/>
<rect x="102.72" y="276.50" width="7.2" height="6.8" rx="2.6" fill="#008282"/>
<rect x="108.05" y="279.60" width="7.2" height="6.8" rx="2.6" fill="#008282"/>
<rect x="113.39" y="305.40" width="7.2" height="6.8" rx="2.6" fill="#008282"/>
<rect x="118.72" y="313.40" width="7.2" height="6.8" rx="2.6" fill="#008282"/>
<rect x="124.06" y="298.90" width="7.2" height="6.8" rx="2.6" fill="#008282"/>
<rect x="129.39" y="254.80" width="7.2" height="6.8" rx="2.6" fill="#008282"/>
<rect x="134.73" y="318.40" width="7.2" height="6.8" rx="2.6" fill="#008282"/>
<rect x="140.06" y="286.80" width="7.2" height="6.8" rx="2.6" fill="#008282"/>
<rect x="145.40" y="304.30" width="7.2" height="6.8" rx="2.6" fill="#008282"/>
<rect x="150.73" y="267.80" width="7.2" height="6.8" rx="2.6" fill="#008282"/>
<rect x="156.07" y="328.40" width="7.2" height="6.8" rx="2.6" fill="#008282"/>
<rect x="161.40" y="326.90" width="7.2" height="6.8" rx="2.6" fill="#008282"/>
<rect x="166.74" y="266.90" width="7.2" height="6.8" rx="2.6" fill="#008282"/>
<rect x="172.07" y="266.90" width="7.2" height="6.8" rx="2.6" fill="#008282"/>
<rect x="177.41" y="311.20" width="7.2" height="6.8" rx="2.6" fill="#008282"/>
<rect x="182.74" y="338.30" width="7.2" height="6.8" rx="2.6" fill="#008282"/>
<rect x="188.08" y="304.00" width="7.2" height="6.8" rx="2.6" fill="#008282"/>
<rect x="193.41" y="255.50" width="7.2" height="6.8" rx="2.6" fill="#008282"/>
<rect x="198.75" y="278.30" width="7.2" height="6.8" rx="2.6" fill="#008282"/>
<rect x="204.08" y="318.00" width="7.2" height="6.8" rx="2.6" fill="#008282"/>
<rect x="209.42" y="263.80" width="7.2" height="6.8" rx="2.6" fill="#008282"/>
<rect x="214.75" y="316.10" width="7.2" height="6.8" rx="2.6" fill="#008282"/>
<rect x="220.09" y="280.10" width="7.2" height="6.8" rx="2.6" fill="#008282"/>
<rect x="225.42" y="294.90" width="7.2" height="6.8" rx="2.6" fill="#008282"/>
<rect x="230.76" y="305.40" width="7.2" height="6.8" rx="2.6" fill="#008282"/>
<rect x="236.09" y="254.80" width="7.2" height="6.8" rx="2.6" fill="#008282"/>
<rect x="241.43" y="276.80" width="7.2" height="6.8" rx="2.6" fill="#008282"/>
<rect x="246.76" y="341.90" width="7.2" height="6.8" rx="2.6" fill="#008282"/>
<rect x="252.10" y="290.90" width="7.2" height="6.8" rx="2.6" fill="#008282"/>
<rect x="257.44" y="296.40" width="7.2" height="6.8" rx="2.6" fill="#008282"/>
<rect x="262.77" y="284.10" width="7.2" height="6.8" rx="2.6" fill="#008282"/>
<rect x="268.11" y="302.70" width="7.2" height="6.8" rx="2.6" fill="#008282"/>
<rect x="273.44" y="245.70" width="7.2" height="6.8" rx="2.6" fill="#008282"/>
<rect x="278.78" y="281.90" width="7.2" height="6.8" rx="2.6" fill="#008282"/>
<rect x="284.11" y="307.60" width="7.2" height="6.8" rx="2.6" fill="#008282"/>
<rect x="289.45" y="254.20" width="7.2" height="6.8" rx="2.6" fill="#008282"/>
<rect x="294.78" y="247.90" width="7.2" height="6.8" rx="2.6" fill="#008282"/>
<rect x="300.12" y="334.70" width="7.2" height="6.8" rx="2.6" fill="#008282"/>
<rect x="305.45" y="304.00" width="7.2" height="6.8" rx="2.6" fill="#008282"/>
<rect x="310.79" y="315.60" width="7.2" height="6.8" rx="2.6" fill="#008282"/>
<rect x="316.12" y="323.80" width="7.2" height="6.8" rx="2.6" fill="#008282"/>
<rect x="321.46" y="233.20" width="7.2" height="6.8" rx="2.6" fill="#008282"/>
<rect x="326.79" y="317.50" width="7.2" height="6.8" rx="2.6" fill="#008282"/>
<rect x="332.13" y="240.70" width="7.2" height="6.8" rx="2.6" fill="#008282"/>
<rect x="337.46" y="294.00" width="7.2" height="6.8" rx="2.6" fill="#008282"/>
<rect x="342.80" y="275.90" width="7.2" height="6.8" rx="2.6" fill="#008282"/>
<rect x="348.13" y="274.10" width="7.2" height="6.8" rx="2.6" fill="#008282"/>
<rect x="353.47" y="254.10" width="7.2" height="6.8" rx="2.6" fill="#008282"/>
<rect x="358.80" y="320.60" width="7.2" height="6.8" rx="2.6" fill="#008282"/>
<rect x="364.14" y="273.20" width="7.2" height="6.8" rx="2.6" fill="#008282"/>
<rect x="369.47" y="276.80" width="7.2" height="6.8" rx="2.6" fill="#008282"/>
<rect x="374.81" y="262.10" width="7.2" height="6.8" rx="2.6" fill="#008282"/>
<rect x="380.14" y="304.90" width="7.2" height="6.8" rx="2.6" fill="#008282"/>
<rect x="385.48" y="275.90" width="7.2" height="6.8" rx="2.6" fill="#008282"/>
<rect x="390.81" y="284.10" width="7.2" height="6.8" rx="2.6" fill="#008282"/>
<rect x="396.15" y="284.10" width="7.2" height="6.8" rx="2.6" fill="#008282"/>
<rect x="401.48" y="301.80" width="7.2" height="6.8" rx="2.6" fill="#008282"/>
<rect x="406.82" y="313.60" width="7.2" height="6.8" rx="2.6" fill="#008282"/>
<rect x="412.15" y="285.00" width="7.2" height="6.8" rx="2.6" fill="#008282"/>
<rect x="417.49" y="243.90" width="7.2" height="6.8" rx="2.6" fill="#008282"/>
<rect x="422.82" y="256.60" width="7.2" height="6.8" rx="2.6" fill="#008282"/>
<rect x="428.16" y="270.00" width="7.2" height="6.8" rx="2.6" fill="#008282"/>
<rect x="433.49" y="304.90" width="7.2" height="6.8" rx="2.6" fill="#008282"/>
<rect x="438.83" y="236.00" width="7.2" height="6.8" rx="2.6" fill="#008282"/>
<rect x="444.16" y="225.50" width="7.2" height="6.8" rx="2.6" fill="#008282"/>
<rect x="449.50" y="263.10" width="7.2" height="6.8" rx="2.6" fill="#008282"/>
<rect x="454.84" y="288.00" width="7.2" height="6.8" rx="2.6" fill="#008282"/>
<rect x="460.17" y="295.30" width="7.2" height="6.8" rx="2.6" fill="#008282"/>
<rect x="465.51" y="294.60" width="7.2" height="6.8" rx="2.6" fill="#008282"/>
<rect x="470.84" y="249.10" width="7.2" height="6.8" rx="2.6" fill="#008282"/>
<rect x="476.18" y="325.60" width="7.2" height="6.8" rx="2.6" fill="#008282"/>
<rect x="481.51" y="276.80" width="7.2" height="6.8" rx="2.6" fill="#008282"/>
<rect x="486.85" y="313.60" width="7.2" height="6.8" rx="2.6" fill="#008282"/>
<rect x="492.18" y="289.50" width="7.2" height="6.8" rx="2.6" fill="#008282"/>
<rect x="497.52" y="275.00" width="7.2" height="6.8" rx="2.6" fill="#008282"/>
<rect x="502.85" y="377.20" width="7.2" height="6.8" rx="2.6" fill="#008282"/>
<rect x="508.19" y="273.10" width="7.2" height="6.8" rx="2.6" fill="#008282"/>
<rect x="513.52" y="273.80" width="7.2" height="6.8" rx="2.6" fill="#008282"/>
<rect x="518.86" y="335.60" width="7.2" height="6.8" rx="2.6" fill="#008282"/>
<rect x="529.53" y="325.70" width="7.2" height="6.8" rx="2.6" fill="#008282"/>
<rect x="534.86" y="280.60" width="7.2" height="6.8" rx="2.6" fill="#008282"/>
<rect x="540.20" y="281.90" width="7.2" height="6.8" rx="2.6" fill="#008282"/>
<rect x="545.53" y="227.80" width="7.2" height="6.8" rx="2.6" fill="#008282"/>
<rect x="550.87" y="301.80" width="7.2" height="6.8" rx="2.6" fill="#008282"/>
<rect x="556.20" y="282.80" width="7.2" height="6.8" rx="2.6" fill="#008282"/>
<rect x="561.54" y="325.40" width="7.2" height="6.8" rx="2.6" fill="#008282"/>
<rect x="566.87" y="161.00" width="7.2" height="6.8" rx="2.6" fill="#008282"/>
<rect x="572.21" y="313.90" width="7.2" height="6.8" rx="2.6" fill="#008282"/>
<rect x="577.54" y="338.30" width="7.2" height="6.8" rx="2.6" fill="#008282"/>
<rect x="582.88" y="304.90" width="7.2" height="6.8" rx="2.6" fill="#008282"/>
<rect x="588.21" y="229.60" width="7.2" height="6.8" rx="2.6" fill="#008282"/>
<rect x="593.55" y="281.90" width="7.2" height="6.8" rx="2.6" fill="#008282"/>
<rect x="598.88" y="297.30" width="7.2" height="6.8" rx="2.6" fill="#008282"/>
<rect x="604.22" y="308.10" width="7.2" height="6.8" rx="2.6" fill="#008282"/>
<rect x="609.55" y="255.70" width="7.2" height="6.8" rx="2.6" fill="#008282"/>
<rect x="614.89" y="266.80" width="7.2" height="6.8" rx="2.6" fill="#008282"/>
<rect x="620.22" y="280.10" width="7.2" height="6.8" rx="2.6" fill="#008282"/>
<rect x="625.56" y="270.40" width="7.2" height="6.8" rx="2.6" fill="#008282"/>
<rect x="630.89" y="309.00" width="7.2" height="6.8" rx="2.6" fill="#008282"/>
<rect x="636.23" y="266.30" width="7.2" height="6.8" rx="2.6" fill="#008282"/>
<rect x="641.56" y="300.90" width="7.2" height="6.8" rx="2.6" fill="#008282"/>
<rect x="646.90" y="266.60" width="7.2" height="6.8" rx="2.6" fill="#008282"/>
</g>
<g><line x1="438.3" y1="89.8" x2="468.8" y2="89.8" stroke="#000" stroke-width="2.2"/>
<path d="M449.90 89.80H457.10M453.50 86.20V93.40M450.95 87.25L456.05 92.35M450.95 92.35L456.05 87.25" stroke="#000" stroke-width="2.0" fill="none"/><circle cx="453.50" cy="89.80" r="2.88" fill="#000"/>
<line x1="438.3" y1="110.3" x2="468.8" y2="110.3" stroke="#008282" stroke-width="2.2"/><circle cx="453.5" cy="110.3" r="3.4" fill="#008282"/>
<text x="472" y="95.8" font-size="16.2" fill="#0a50ff" stroke="#0a50ff" stroke-width="0.22">rmse grand pr = 3.5767</text>
<text x="472" y="115.6" font-size="16.2" fill="#0a50ff" stroke="#0a50ff" stroke-width="0.22">bias grand pr = 0.31149</text></g>
<line x1="58.5" y1="398.5" x2="655.5" y2="398.5" stroke="#45162a" stroke-width="1"/>
<line x1="655.5" y1="70.5" x2="655.5" y2="398.5" stroke="#d40d52" stroke-width="1"/>
<line x1="655.5" y1="90.5" x2="650.0" y2="90.5" stroke="#d40d52" stroke-width="1"/>
<line x1="655.5" y1="193.5" x2="650.0" y2="193.5" stroke="#d40d52" stroke-width="1"/>
<line x1="655.5" y1="296.2" x2="650.0" y2="296.2" stroke="#d40d52" stroke-width="1"/>
<g>
<circle cx="58.30" cy="368.50" r="3.05" fill="none" stroke="#d40d52" stroke-width="1.05"/>
<path d="M54.85 368.50H61.75M58.30 365.05V371.95M55.86 366.06L60.74 370.94M55.86 370.94L60.74 366.06" stroke="#d40d52" stroke-width="1.12" fill="none"/>
<circle cx="63.64" cy="278.10" r="3.05" fill="none" stroke="#d40d52" stroke-width="1.05"/>
<path d="M60.19 282.90H67.09M63.64 279.45V286.35M61.20 280.46L66.07 285.34M61.20 285.34L66.07 280.46" stroke="#d40d52" stroke-width="1.12" fill="none"/>
<circle cx="68.97" cy="270.30" r="3.05" fill="none" stroke="#d40d52" stroke-width="1.05"/>
<path d="M65.52 270.30H72.42M68.97 266.85V273.75M66.53 267.86L71.41 272.74M66.53 272.74L71.41 267.86" stroke="#d40d52" stroke-width="1.12" fill="none"/>
<circle cx="74.31" cy="324.00" r="3.05" fill="none" stroke="#d40d52" stroke-width="1.05"/>
<path d="M70.86 327.60H77.76M74.31 324.15V331.05M71.87 325.16L76.74 330.04M71.87 330.04L76.74 325.16" stroke="#d40d52" stroke-width="1.12" fill="none"/>
<circle cx="79.64" cy="374.80" r="3.05" fill="none" stroke="#d40d52" stroke-width="1.05"/>
<path d="M76.19 378.30H83.09M79.64 374.85V381.75M77.20 375.86L82.08 380.74M77.20 380.74L82.08 375.86" stroke="#d40d52" stroke-width="1.12" fill="none"/>
<circle cx="84.98" cy="296.50" r="3.05" fill="none" stroke="#d40d52" stroke-width="1.05"/>
<path d="M81.53 296.50H88.43M84.98 293.05V299.95M82.54 294.06L87.42 298.94M82.54 298.94L87.42 294.06" stroke="#d40d52" stroke-width="1.12" fill="none"/>
<circle cx="90.31" cy="185.40" r="3.05" fill="none" stroke="#d40d52" stroke-width="1.05"/>
<path d="M86.86 185.40H93.76M90.31 181.95V188.85M87.87 182.96L92.75 187.84M87.87 187.84L92.75 182.96" stroke="#d40d52" stroke-width="1.12" fill="none"/>
<circle cx="95.65" cy="298.30" r="3.05" fill="none" stroke="#d40d52" stroke-width="1.05"/>
<path d="M92.20 298.30H99.10M95.65 294.85V301.75M93.21 295.86L98.09 300.74M93.21 300.74L98.09 295.86" stroke="#d40d52" stroke-width="1.12" fill="none"/>
<circle cx="100.98" cy="364.90" r="3.05" fill="none" stroke="#d40d52" stroke-width="1.05"/>
<path d="M97.53 367.90H104.43M100.98 364.45V371.35M98.54 365.46L103.42 370.34M98.54 370.34L103.42 365.46" stroke="#d40d52" stroke-width="1.12" fill="none"/>
<circle cx="106.32" cy="327.20" r="3.05" fill="none" stroke="#d40d52" stroke-width="1.05"/>
<path d="M102.87 329.00H109.77M106.32 325.55V332.45M103.88 326.56L108.76 331.44M103.88 331.44L108.76 326.56" stroke="#d40d52" stroke-width="1.12" fill="none"/>
<circle cx="111.65" cy="274.80" r="3.05" fill="none" stroke="#d40d52" stroke-width="1.05"/>
<path d="M108.20 278.40H115.10M111.65 274.95V281.85M109.21 275.96L114.09 280.84M109.21 280.84L114.09 275.96" stroke="#d40d52" stroke-width="1.12" fill="none"/>
<circle cx="116.99" cy="350.40" r="3.05" fill="none" stroke="#d40d52" stroke-width="1.05"/>
<path d="M113.54 350.40H120.44M116.99 346.95V353.85M114.55 347.96L119.43 352.84M114.55 352.84L119.43 347.96" stroke="#d40d52" stroke-width="1.12" fill="none"/>
<circle cx="122.32" cy="375.40" r="3.05" fill="none" stroke="#d40d52" stroke-width="1.05"/>
<path d="M118.87 375.40H125.77M122.32 371.95V378.85M119.88 372.96L124.76 377.84M119.88 377.84L124.76 372.96" stroke="#d40d52" stroke-width="1.12" fill="none"/>
<circle cx="127.66" cy="334.50" r="3.05" fill="none" stroke="#d40d52" stroke-width="1.05"/>
<path d="M124.21 334.50H131.11M127.66 331.05V337.95M125.22 332.06L130.10 336.94M125.22 336.94L130.10 332.06" stroke="#d40d52" stroke-width="1.12" fill="none"/>
<circle cx="132.99" cy="296.50" r="3.05" fill="none" stroke="#d40d52" stroke-width="1.05"/>
<path d="M129.54 296.50H136.44M132.99 293.05V299.95M130.55 294.06L135.43 298.94M130.55 298.94L135.43 294.06" stroke="#d40d52" stroke-width="1.12" fill="none"/>
<circle cx="138.33" cy="367.90" r="3.05" fill="none" stroke="#d40d52" stroke-width="1.05"/>
<path d="M134.88 370.30H141.78M138.33 366.85V373.75M135.89 367.86L140.77 372.74M135.89 372.74L140.77 367.86" stroke="#d40d52" stroke-width="1.12" fill="none"/>
<circle cx="143.66" cy="339.40" r="3.05" fill="none" stroke="#d40d52" stroke-width="1.05"/>
<path d="M140.21 339.40H147.11M143.66 335.95V342.85M141.22 336.96L146.10 341.84M141.22 341.84L146.10 336.96" stroke="#d40d52" stroke-width="1.12" fill="none"/>
<circle cx="149.00" cy="296.50" r="3.05" fill="none" stroke="#d40d52" stroke-width="1.05"/>
<path d="M145.55 296.50H152.45M149.00 293.05V299.95M146.56 294.06L151.44 298.94M146.56 298.94L151.44 294.06" stroke="#d40d52" stroke-width="1.12" fill="none"/>
<circle cx="154.33" cy="270.30" r="3.05" fill="none" stroke="#d40d52" stroke-width="1.05"/>
<path d="M150.88 270.30H157.78M154.33 266.85V273.75M151.89 267.86L156.77 272.74M151.89 272.74L156.77 267.86" stroke="#d40d52" stroke-width="1.12" fill="none"/>
<circle cx="159.67" cy="350.40" r="3.05" fill="none" stroke="#d40d52" stroke-width="1.05"/>
<path d="M156.22 350.40H163.12M159.67 346.95V353.85M157.23 347.96L162.11 352.84M157.23 352.84L162.11 347.96" stroke="#d40d52" stroke-width="1.12" fill="none"/>
<circle cx="165.00" cy="355.30" r="3.05" fill="none" stroke="#d40d52" stroke-width="1.05"/>
<path d="M161.55 355.30H168.45M165.00 351.85V358.75M162.56 352.86L167.44 357.74M162.56 357.74L167.44 352.86" stroke="#d40d52" stroke-width="1.12" fill="none"/>
<circle cx="170.34" cy="263.00" r="3.05" fill="none" stroke="#d40d52" stroke-width="1.05"/>
<path d="M166.89 267.90H173.79M170.34 264.45V271.35M167.90 265.46L172.78 270.34M167.90 270.34L172.78 265.46" stroke="#d40d52" stroke-width="1.12" fill="none"/>
<circle cx="175.67" cy="195.40" r="3.05" fill="none" stroke="#d40d52" stroke-width="1.05"/>
<path d="M172.22 203.50H179.12M175.67 200.05V206.95M173.23 201.06L178.11 205.94M173.23 205.94L178.11 201.06" stroke="#d40d52" stroke-width="1.12" fill="none"/>
<circle cx="181.01" cy="337.50" r="3.05" fill="none" stroke="#d40d52" stroke-width="1.05"/>
<path d="M177.56 337.50H184.46M181.01 334.05V340.95M178.57 335.06L183.45 339.94M178.57 339.94L183.45 335.06" stroke="#d40d52" stroke-width="1.12" fill="none"/>
<circle cx="186.34" cy="360.30" r="3.05" fill="none" stroke="#d40d52" stroke-width="1.05"/>
<path d="M182.89 360.30H189.79M186.34 356.85V363.75M183.90 357.86L188.78 362.74M183.90 362.74L188.78 357.86" stroke="#d40d52" stroke-width="1.12" fill="none"/>
<circle cx="191.68" cy="273.40" r="3.05" fill="none" stroke="#d40d52" stroke-width="1.05"/>
<path d="M188.23 273.40H195.13M191.68 269.95V276.85M189.24 270.96L194.12 275.84M189.24 275.84L194.12 270.96" stroke="#d40d52" stroke-width="1.12" fill="none"/>
<circle cx="197.01" cy="237.70" r="3.05" fill="none" stroke="#d40d52" stroke-width="1.05"/>
<path d="M193.56 237.70H200.46M197.01 234.25V241.15M194.57 235.26L199.45 240.14M194.57 240.14L199.45 235.26" stroke="#d40d52" stroke-width="1.12" fill="none"/>
<circle cx="202.35" cy="314.20" r="3.05" fill="none" stroke="#d40d52" stroke-width="1.05"/>
<path d="M198.90 314.20H205.80M202.35 310.75V317.65M199.91 311.76L204.79 316.64M199.91 316.64L204.79 311.76" stroke="#d40d52" stroke-width="1.12" fill="none"/>
<circle cx="207.68" cy="309.20" r="3.05" fill="none" stroke="#d40d52" stroke-width="1.05"/>
<path d="M204.23 309.20H211.13M207.68 305.75V312.65M205.24 306.76L210.12 311.64M205.24 311.64L210.12 306.76" stroke="#d40d52" stroke-width="1.12" fill="none"/>
<circle cx="213.02" cy="189.00" r="3.05" fill="none" stroke="#d40d52" stroke-width="1.05"/>
<path d="M209.57 193.00H216.47M213.02 189.55V196.45M210.58 190.56L215.46 195.44M210.58 195.44L215.46 190.56" stroke="#d40d52" stroke-width="1.12" fill="none"/>
<circle cx="218.35" cy="293.30" r="3.05" fill="none" stroke="#d40d52" stroke-width="1.05"/>
<path d="M214.90 293.30H221.80M218.35 289.85V296.75M215.91 290.86L220.79 295.74M215.91 295.74L220.79 290.86" stroke="#d40d52" stroke-width="1.12" fill="none"/>
<circle cx="223.69" cy="329.00" r="3.05" fill="none" stroke="#d40d52" stroke-width="1.05"/>
<path d="M220.24 329.00H227.14M223.69 325.55V332.45M221.25 326.56L226.13 331.44M221.25 331.44L226.13 326.56" stroke="#d40d52" stroke-width="1.12" fill="none"/>
<circle cx="229.02" cy="334.10" r="3.05" fill="none" stroke="#d40d52" stroke-width="1.05"/>
<path d="M225.57 334.10H232.47M229.02 330.65V337.55M226.58 331.66L231.46 336.54M226.58 336.54L231.46 331.66" stroke="#d40d52" stroke-width="1.12" fill="none"/>
<circle cx="234.36" cy="278.40" r="3.05" fill="none" stroke="#d40d52" stroke-width="1.05"/>
<path d="M230.91 280.20H237.81M234.36 276.75V283.65M231.92 277.76L236.80 282.64M231.92 282.64L236.80 277.76" stroke="#d40d52" stroke-width="1.12" fill="none"/>
<circle cx="239.69" cy="184.50" r="3.05" fill="none" stroke="#d40d52" stroke-width="1.05"/>
<path d="M236.24 188.10H243.14M239.69 184.65V191.55M237.26 185.66L242.13 190.54M237.26 190.54L242.13 185.66" stroke="#d40d52" stroke-width="1.12" fill="none"/>
<circle cx="245.03" cy="298.30" r="3.05" fill="none" stroke="#d40d52" stroke-width="1.05"/>
<path d="M241.58 298.30H248.48M245.03 294.85V301.75M242.59 295.86L247.47 300.74M242.59 300.74L247.47 295.86" stroke="#d40d52" stroke-width="1.12" fill="none"/>
<circle cx="250.36" cy="370.30" r="3.05" fill="none" stroke="#d40d52" stroke-width="1.05"/>
<path d="M246.91 370.30H253.81M250.36 366.85V373.75M247.93 367.86L252.80 372.74M247.93 372.74L252.80 367.86" stroke="#d40d52" stroke-width="1.12" fill="none"/>
<circle cx="255.70" cy="383.30" r="3.05" fill="none" stroke="#d40d52" stroke-width="1.05"/>
<path d="M252.25 383.30H259.15M255.70 379.85V386.75M253.26 380.86L258.14 385.74M253.26 385.74L258.14 380.86" stroke="#d40d52" stroke-width="1.12" fill="none"/>
<circle cx="261.04" cy="280.20" r="3.05" fill="none" stroke="#d40d52" stroke-width="1.05"/>
<path d="M257.59 291.40H264.49M261.04 287.95V294.85M258.60 288.96L263.47 293.84M258.60 293.84L263.47 288.96" stroke="#d40d52" stroke-width="1.12" fill="none"/>
<circle cx="266.37" cy="347.50" r="3.05" fill="none" stroke="#d40d52" stroke-width="1.05"/>
<path d="M262.92 347.50H269.82M266.37 344.05V350.95M263.93 345.06L268.81 349.94M263.93 349.94L268.81 345.06" stroke="#d40d52" stroke-width="1.12" fill="none"/>
<circle cx="271.71" cy="386.40" r="3.05" fill="none" stroke="#d40d52" stroke-width="1.05"/>
<path d="M268.26 386.40H275.16M271.71 382.95V389.85M269.27 383.96L274.14 388.84M269.27 388.84L274.14 383.96" stroke="#d40d52" stroke-width="1.12" fill="none"/>
<circle cx="277.04" cy="350.40" r="3.05" fill="none" stroke="#d40d52" stroke-width="1.05"/>
<path d="M273.59 355.30H280.49M277.04 351.85V358.75M274.60 352.86L279.48 357.74M274.60 357.74L279.48 352.86" stroke="#d40d52" stroke-width="1.12" fill="none"/>
<circle cx="282.38" cy="206.20" r="3.05" fill="none" stroke="#d40d52" stroke-width="1.05"/>
<path d="M278.93 206.20H285.83M282.38 202.75V209.65M279.94 203.76L284.82 208.64M279.94 208.64L284.82 203.76" stroke="#d40d52" stroke-width="1.12" fill="none"/>
<circle cx="287.71" cy="352.60" r="3.05" fill="none" stroke="#d40d52" stroke-width="1.05"/>
<path d="M284.26 352.60H291.16M287.71 349.15V356.05M285.27 350.16L290.15 355.04M285.27 355.04L290.15 350.16" stroke="#d40d52" stroke-width="1.12" fill="none"/>
<circle cx="293.05" cy="334.50" r="3.05" fill="none" stroke="#d40d52" stroke-width="1.05"/>
<path d="M289.60 334.50H296.50M293.05 331.05V337.95M290.61 332.06L295.49 336.94M290.61 336.94L295.49 332.06" stroke="#d40d52" stroke-width="1.12" fill="none"/>
<circle cx="298.38" cy="291.40" r="3.05" fill="none" stroke="#d40d52" stroke-width="1.05"/>
<path d="M294.93 291.40H301.83M298.38 287.95V294.85M295.94 288.96L300.82 293.84M295.94 293.84L300.82 288.96" stroke="#d40d52" stroke-width="1.12" fill="none"/>
<circle cx="303.72" cy="288.40" r="3.05" fill="none" stroke="#d40d52" stroke-width="1.05"/>
<path d="M300.27 288.40H307.17M303.72 284.95V291.85M301.28 285.96L306.16 290.84M301.28 290.84L306.16 285.96" stroke="#d40d52" stroke-width="1.12" fill="none"/>
<circle cx="309.05" cy="318.20" r="3.05" fill="none" stroke="#d40d52" stroke-width="1.05"/>
<path d="M305.60 321.80H312.50M309.05 318.35V325.25M306.61 319.36L311.49 324.24M306.61 324.24L311.49 319.36" stroke="#d40d52" stroke-width="1.12" fill="none"/>
<circle cx="314.39" cy="327.20" r="3.05" fill="none" stroke="#d40d52" stroke-width="1.05"/>
<path d="M310.94 327.20H317.84M314.39 323.75V330.65M311.95 324.76L316.83 329.64M311.95 329.64L316.83 324.76" stroke="#d40d52" stroke-width="1.12" fill="none"/>
<circle cx="319.72" cy="139.30" r="3.05" fill="none" stroke="#d40d52" stroke-width="1.05"/>
<path d="M316.27 141.30H323.17M319.72 137.85V144.75M317.28 138.86L322.16 143.74M317.28 143.74L322.16 138.86" stroke="#d40d52" stroke-width="1.12" fill="none"/>
<circle cx="325.06" cy="284.80" r="3.05" fill="none" stroke="#d40d52" stroke-width="1.05"/>
<path d="M321.61 288.40H328.51M325.06 284.95V291.85M322.62 285.96L327.50 290.84M322.62 290.84L327.50 285.96" stroke="#d40d52" stroke-width="1.12" fill="none"/>
<circle cx="330.39" cy="329.00" r="3.05" fill="none" stroke="#d40d52" stroke-width="1.05"/>
<path d="M326.94 334.10H333.84M330.39 330.65V337.55M327.95 331.66L332.83 336.54M327.95 336.54L332.83 331.66" stroke="#d40d52" stroke-width="1.12" fill="none"/>
<circle cx="335.73" cy="360.30" r="3.05" fill="none" stroke="#d40d52" stroke-width="1.05"/>
<path d="M332.28 360.30H339.18M335.73 356.85V363.75M333.29 357.86L338.17 362.74M333.29 362.74L338.17 357.86" stroke="#d40d52" stroke-width="1.12" fill="none"/>
<circle cx="341.06" cy="200.30" r="3.05" fill="none" stroke="#d40d52" stroke-width="1.05"/>
<path d="M337.61 203.50H344.51M341.06 200.05V206.95M338.62 201.06L343.50 205.94M338.62 205.94L343.50 201.06" stroke="#d40d52" stroke-width="1.12" fill="none"/>
<circle cx="346.40" cy="134.40" r="3.05" fill="none" stroke="#d40d52" stroke-width="1.05"/>
<path d="M342.95 134.40H349.85M346.40 130.95V137.85M343.96 131.96L348.84 136.84M343.96 136.84L348.84 131.96" stroke="#d40d52" stroke-width="1.12" fill="none"/>
<circle cx="351.73" cy="315.50" r="3.05" fill="none" stroke="#d40d52" stroke-width="1.05"/>
<path d="M348.28 320.90H355.18M351.73 317.45V324.35M349.29 318.46L354.17 323.34M349.29 323.34L354.17 318.46" stroke="#d40d52" stroke-width="1.12" fill="none"/>
<circle cx="357.07" cy="355.30" r="3.05" fill="none" stroke="#d40d52" stroke-width="1.05"/>
<path d="M353.62 355.30H360.52M357.07 351.85V358.75M354.63 352.86L359.51 357.74M354.63 357.74L359.51 352.86" stroke="#d40d52" stroke-width="1.12" fill="none"/>
<circle cx="362.40" cy="244.20" r="3.05" fill="none" stroke="#d40d52" stroke-width="1.05"/>
<path d="M358.95 247.20H365.85M362.40 243.75V250.65M359.96 244.76L364.84 249.64M359.96 249.64L364.84 244.76" stroke="#d40d52" stroke-width="1.12" fill="none"/>
<circle cx="367.74" cy="234.30" r="3.05" fill="none" stroke="#d40d52" stroke-width="1.05"/>
<path d="M364.29 234.30H371.19M367.74 230.85V237.75M365.30 231.86L370.18 236.74M365.30 236.74L370.18 231.86" stroke="#d40d52" stroke-width="1.12" fill="none"/>
<circle cx="373.07" cy="327.20" r="3.05" fill="none" stroke="#d40d52" stroke-width="1.05"/>
<path d="M369.62 329.40H376.52M373.07 325.95V332.85M370.63 326.96L375.51 331.84M370.63 331.84L375.51 326.96" stroke="#d40d52" stroke-width="1.12" fill="none"/>
<circle cx="378.41" cy="365.20" r="3.05" fill="none" stroke="#d40d52" stroke-width="1.05"/>
<path d="M374.96 365.20H381.86M378.41 361.75V368.65M375.97 362.76L380.85 367.64M375.97 367.64L380.85 362.76" stroke="#d40d52" stroke-width="1.12" fill="none"/>
<circle cx="383.74" cy="293.30" r="3.05" fill="none" stroke="#d40d52" stroke-width="1.05"/>
<path d="M380.29 293.30H387.19M383.74 289.85V296.75M381.30 290.86L386.18 295.74M381.30 295.74L386.18 290.86" stroke="#d40d52" stroke-width="1.12" fill="none"/>
<circle cx="389.08" cy="278.40" r="3.05" fill="none" stroke="#d40d52" stroke-width="1.05"/>
<path d="M385.63 278.40H392.53M389.08 274.95V281.85M386.64 275.96L391.52 280.84M386.64 280.84L391.52 275.96" stroke="#d40d52" stroke-width="1.12" fill="none"/>
<circle cx="394.41" cy="270.30" r="3.05" fill="none" stroke="#d40d52" stroke-width="1.05"/>
<path d="M390.96 270.30H397.86M394.41 266.85V273.75M391.97 267.86L396.85 272.74M391.97 272.74L396.85 267.86" stroke="#d40d52" stroke-width="1.12" fill="none"/>
<circle cx="399.75" cy="334.50" r="3.05" fill="none" stroke="#d40d52" stroke-width="1.05"/>
<path d="M396.30 339.00H403.20M399.75 335.55V342.45M397.31 336.56L402.19 341.44M397.31 341.44L402.19 336.56" stroke="#d40d52" stroke-width="1.12" fill="none"/>
<circle cx="405.08" cy="324.50" r="3.05" fill="none" stroke="#d40d52" stroke-width="1.05"/>
<path d="M401.63 324.50H408.53M405.08 321.05V327.95M402.64 322.06L407.52 326.94M402.64 326.94L407.52 322.06" stroke="#d40d52" stroke-width="1.12" fill="none"/>
<circle cx="410.42" cy="327.20" r="3.05" fill="none" stroke="#d40d52" stroke-width="1.05"/>
<path d="M406.97 329.40H413.87M410.42 325.95V332.85M407.98 326.96L412.86 331.84M407.98 331.84L412.86 326.96" stroke="#d40d52" stroke-width="1.12" fill="none"/>
<circle cx="415.75" cy="347.50" r="3.05" fill="none" stroke="#d40d52" stroke-width="1.05"/>
<path d="M412.30 347.50H419.20M415.75 344.05V350.95M413.31 345.06L418.19 349.94M413.31 349.94L418.19 345.06" stroke="#d40d52" stroke-width="1.12" fill="none"/>
<circle cx="421.09" cy="368.50" r="3.05" fill="none" stroke="#d40d52" stroke-width="1.05"/>
<path d="M417.64 368.50H424.54M421.09 365.05V371.95M418.65 366.06L423.53 370.94M418.65 370.94L423.53 366.06" stroke="#d40d52" stroke-width="1.12" fill="none"/>
<circle cx="426.42" cy="374.80" r="3.05" fill="none" stroke="#d40d52" stroke-width="1.05"/>
<path d="M422.97 378.30H429.87M426.42 374.85V381.75M423.98 375.86L428.86 380.74M423.98 380.74L428.86 375.86" stroke="#d40d52" stroke-width="1.12" fill="none"/>
<circle cx="431.76" cy="280.20" r="3.05" fill="none" stroke="#d40d52" stroke-width="1.05"/>
<path d="M428.31 280.20H435.21M431.76 276.75V283.65M429.32 277.76L434.20 282.64M429.32 282.64L434.20 277.76" stroke="#d40d52" stroke-width="1.12" fill="none"/>
<circle cx="437.09" cy="275.20" r="3.05" fill="none" stroke="#d40d52" stroke-width="1.05"/>
<path d="M433.64 279.90H440.54M437.09 276.45V283.35M434.66 277.46L439.53 282.34M434.66 282.34L439.53 277.46" stroke="#d40d52" stroke-width="1.12" fill="none"/>
<circle cx="442.43" cy="337.50" r="3.05" fill="none" stroke="#d40d52" stroke-width="1.05"/>
<path d="M438.98 337.50H445.88M442.43 334.05V340.95M439.99 335.06L444.87 339.94M439.99 339.94L444.87 335.06" stroke="#d40d52" stroke-width="1.12" fill="none"/>
<circle cx="447.76" cy="373.40" r="3.05" fill="none" stroke="#d40d52" stroke-width="1.05"/>
<path d="M444.31 373.40H451.21M447.76 369.95V376.85M445.33 370.96L450.20 375.84M445.33 375.84L450.20 370.96" stroke="#d40d52" stroke-width="1.12" fill="none"/>
<circle cx="453.10" cy="298.30" r="3.05" fill="none" stroke="#d40d52" stroke-width="1.05"/>
<path d="M449.65 298.30H456.55M453.10 294.85V301.75M450.66 295.86L455.54 300.74M450.66 300.74L455.54 295.86" stroke="#d40d52" stroke-width="1.12" fill="none"/>
<circle cx="458.44" cy="347.50" r="3.05" fill="none" stroke="#d40d52" stroke-width="1.05"/>
<path d="M454.99 350.80H461.89M458.44 347.35V354.25M456.00 348.36L460.87 353.24M456.00 353.24L460.87 348.36" stroke="#d40d52" stroke-width="1.12" fill="none"/>
<circle cx="463.77" cy="381.50" r="3.05" fill="none" stroke="#d40d52" stroke-width="1.05"/>
<path d="M460.32 381.50H467.22M463.77 378.05V384.95M461.33 379.06L466.21 383.94M461.33 383.94L466.21 379.06" stroke="#d40d52" stroke-width="1.12" fill="none"/>
<circle cx="469.11" cy="311.00" r="3.05" fill="none" stroke="#d40d52" stroke-width="1.05"/>
<path d="M465.66 316.10H472.56M469.11 312.65V319.55M466.67 313.66L471.54 318.54M466.67 318.54L471.54 313.66" stroke="#d40d52" stroke-width="1.12" fill="none"/>
<circle cx="474.44" cy="270.30" r="3.05" fill="none" stroke="#d40d52" stroke-width="1.05"/>
<path d="M470.99 270.30H477.89M474.44 266.85V273.75M472.00 267.86L476.88 272.74M472.00 272.74L476.88 267.86" stroke="#d40d52" stroke-width="1.12" fill="none"/>
<circle cx="479.78" cy="331.80" r="3.05" fill="none" stroke="#d40d52" stroke-width="1.05"/>
<path d="M476.33 334.50H483.23M479.78 331.05V337.95M477.34 332.06L482.22 336.94M477.34 336.94L482.22 332.06" stroke="#d40d52" stroke-width="1.12" fill="none"/>
<circle cx="485.11" cy="363.40" r="3.05" fill="none" stroke="#d40d52" stroke-width="1.05"/>
<path d="M481.66 363.40H488.56M485.11 359.95V366.85M482.67 360.96L487.55 365.84M482.67 365.84L487.55 360.96" stroke="#d40d52" stroke-width="1.12" fill="none"/>
<circle cx="490.45" cy="226.10" r="3.05" fill="none" stroke="#d40d52" stroke-width="1.05"/>
<path d="M487.00 226.10H493.90M490.45 222.65V229.55M488.01 223.66L492.89 228.54M488.01 228.54L492.89 223.66" stroke="#d40d52" stroke-width="1.12" fill="none"/>
<circle cx="495.78" cy="224.00" r="3.05" fill="none" stroke="#d40d52" stroke-width="1.05"/>
<path d="M492.33 224.00H499.23M495.78 220.55V227.45M493.34 221.56L498.22 226.44M493.34 226.44L498.22 221.56" stroke="#d40d52" stroke-width="1.12" fill="none"/>
<circle cx="501.12" cy="257.50" r="3.05" fill="none" stroke="#d40d52" stroke-width="1.05"/>
<path d="M497.67 257.50H504.57M501.12 254.05V260.95M498.68 255.06L503.56 259.94M498.68 259.94L503.56 255.06" stroke="#d40d52" stroke-width="1.12" fill="none"/>
<circle cx="506.45" cy="388.40" r="3.05" fill="none" stroke="#d40d52" stroke-width="1.05"/>
<path d="M503.00 388.40H509.90M506.45 384.95V391.85M504.01 385.96L508.89 390.84M504.01 390.84L508.89 385.96" stroke="#d40d52" stroke-width="1.12" fill="none"/>
<circle cx="511.79" cy="285.30" r="3.05" fill="none" stroke="#d40d52" stroke-width="1.05"/>
<path d="M508.34 296.70H515.24M511.79 293.25V300.15M509.35 294.26L514.23 299.14M509.35 299.14L514.23 294.26" stroke="#d40d52" stroke-width="1.12" fill="none"/>
<circle cx="517.12" cy="324.30" r="3.05" fill="none" stroke="#d40d52" stroke-width="1.05"/>
<path d="M513.67 324.30H520.57M517.12 320.85V327.75M514.68 321.86L519.56 326.74M514.68 326.74L519.56 321.86" stroke="#d40d52" stroke-width="1.12" fill="none"/>
<circle cx="522.46" cy="332.30" r="3.05" fill="none" stroke="#d40d52" stroke-width="1.05"/>
<path d="M519.01 332.30H525.91M522.46 328.85V335.75M520.02 329.86L524.90 334.74M520.02 334.74L524.90 329.86" stroke="#d40d52" stroke-width="1.12" fill="none"/>
<circle cx="527.79" cy="399.00" r="3.05" fill="none" stroke="#d40d52" stroke-width="1.05"/>
<path d="M524.34 399.00H531.24M527.79 395.55V402.45M525.35 396.56L530.23 401.44M525.35 401.44L530.23 396.56" stroke="#d40d52" stroke-width="1.12" fill="none"/>
<circle cx="533.13" cy="270.20" r="3.05" fill="none" stroke="#d40d52" stroke-width="1.05"/>
<path d="M529.68 270.20H536.58M533.13 266.75V273.65M530.69 267.76L535.57 272.64M530.69 272.64L535.57 267.76" stroke="#d40d52" stroke-width="1.12" fill="none"/>
<circle cx="538.46" cy="297.90" r="3.05" fill="none" stroke="#d40d52" stroke-width="1.05"/>
<path d="M535.01 301.60H541.91M538.46 298.15V305.05M536.02 299.16L540.90 304.04M536.02 304.04L540.90 299.16" stroke="#d40d52" stroke-width="1.12" fill="none"/>
<circle cx="543.80" cy="324.30" r="3.05" fill="none" stroke="#d40d52" stroke-width="1.05"/>
<path d="M540.35 324.30H547.25M543.80 320.85V327.75M541.36 321.86L546.24 326.74M541.36 326.74L546.24 321.86" stroke="#d40d52" stroke-width="1.12" fill="none"/>
<circle cx="549.13" cy="365.20" r="3.05" fill="none" stroke="#d40d52" stroke-width="1.05"/>
<path d="M545.68 365.20H552.58M549.13 361.75V368.65M546.69 362.76L551.57 367.64M546.69 367.64L551.57 362.76" stroke="#d40d52" stroke-width="1.12" fill="none"/>
<circle cx="554.47" cy="229.40" r="3.05" fill="none" stroke="#d40d52" stroke-width="1.05"/>
<path d="M551.02 229.40H557.92M554.47 225.95V232.85M552.03 226.96L556.91 231.84M552.03 231.84L556.91 226.96" stroke="#d40d52" stroke-width="1.12" fill="none"/>
<circle cx="559.80" cy="136.60" r="3.05" fill="none" stroke="#d40d52" stroke-width="1.05"/>
<path d="M556.35 136.60H563.25M559.80 133.15V140.05M557.36 134.16L562.24 139.04M557.36 139.04L562.24 134.16" stroke="#d40d52" stroke-width="1.12" fill="none"/>
<circle cx="565.14" cy="313.70" r="3.05" fill="none" stroke="#d40d52" stroke-width="1.05"/>
<path d="M561.69 316.90H568.59M565.14 313.45V320.35M562.70 314.46L567.58 319.34M562.70 319.34L567.58 314.46" stroke="#d40d52" stroke-width="1.12" fill="none"/>
<circle cx="570.47" cy="393.30" r="3.05" fill="none" stroke="#d40d52" stroke-width="1.05"/>
<path d="M567.02 393.30H573.92M570.47 389.85V396.75M568.03 390.86L572.91 395.74M568.03 395.74L572.91 390.86" stroke="#d40d52" stroke-width="1.12" fill="none"/>
<circle cx="575.81" cy="365.20" r="3.05" fill="none" stroke="#d40d52" stroke-width="1.05"/>
<path d="M572.36 365.20H579.26M575.81 361.75V368.65M573.37 362.76L578.25 367.64M573.37 367.64L578.25 362.76" stroke="#d40d52" stroke-width="1.12" fill="none"/>
<circle cx="581.14" cy="262.50" r="3.05" fill="none" stroke="#d40d52" stroke-width="1.05"/>
<path d="M577.69 285.30H584.59M581.14 281.85V288.75M578.70 282.86L583.58 287.74M578.70 287.74L583.58 282.86" stroke="#d40d52" stroke-width="1.12" fill="none"/>
<circle cx="586.48" cy="260.50" r="3.05" fill="none" stroke="#d40d52" stroke-width="1.05"/>
<path d="M583.03 279.30H589.93M586.48 275.85V282.75M584.04 276.86L588.92 281.74M584.04 281.74L588.92 276.86" stroke="#d40d52" stroke-width="1.12" fill="none"/>
<circle cx="591.81" cy="355.30" r="3.05" fill="none" stroke="#d40d52" stroke-width="1.05"/>
<path d="M588.36 355.30H595.26M591.81 351.85V358.75M589.37 352.86L594.25 357.74M589.37 357.74L594.25 352.86" stroke="#d40d52" stroke-width="1.12" fill="none"/>
<circle cx="597.15" cy="360.30" r="3.05" fill="none" stroke="#d40d52" stroke-width="1.05"/>
<path d="M593.70 360.30H600.60M597.15 356.85V363.75M594.71 357.86L599.59 362.74M594.71 362.74L599.59 357.86" stroke="#d40d52" stroke-width="1.12" fill="none"/>
<circle cx="602.48" cy="252.60" r="3.05" fill="none" stroke="#d40d52" stroke-width="1.05"/>
<path d="M599.03 252.60H605.93M602.48 249.15V256.05M600.04 250.16L604.92 255.04M600.04 255.04L604.92 250.16" stroke="#d40d52" stroke-width="1.12" fill="none"/>
<circle cx="607.82" cy="365.20" r="3.05" fill="none" stroke="#d40d52" stroke-width="1.05"/>
<path d="M604.37 368.50H611.27M607.82 365.05V371.95M605.38 366.06L610.26 370.94M605.38 370.94L610.26 366.06" stroke="#d40d52" stroke-width="1.12" fill="none"/>
<circle cx="613.15" cy="396.40" r="3.05" fill="none" stroke="#d40d52" stroke-width="1.05"/>
<path d="M609.70 396.40H616.60M613.15 392.95V399.85M610.71 393.96L615.59 398.84M610.71 398.84L615.59 393.96" stroke="#d40d52" stroke-width="1.12" fill="none"/>
<circle cx="618.49" cy="345.30" r="3.05" fill="none" stroke="#d40d52" stroke-width="1.05"/>
<path d="M615.04 345.30H621.94M618.49 341.85V348.75M616.05 342.86L620.93 347.74M616.05 347.74L620.93 342.86" stroke="#d40d52" stroke-width="1.12" fill="none"/>
<circle cx="623.82" cy="229.40" r="3.05" fill="none" stroke="#d40d52" stroke-width="1.05"/>
<path d="M620.37 229.40H627.27M623.82 225.95V232.85M621.38 226.96L626.26 231.84M621.38 231.84L626.26 226.96" stroke="#d40d52" stroke-width="1.12" fill="none"/>
<circle cx="629.16" cy="306.10" r="3.05" fill="none" stroke="#d40d52" stroke-width="1.05"/>
<path d="M625.71 309.30H632.61M629.16 305.85V312.75M626.72 306.86L631.60 311.74M626.72 311.74L631.60 306.86" stroke="#d40d52" stroke-width="1.12" fill="none"/>
<circle cx="634.49" cy="375.20" r="3.05" fill="none" stroke="#d40d52" stroke-width="1.05"/>
<path d="M631.04 375.20H637.94M634.49 371.75V378.65M632.06 372.76L636.93 377.64M632.06 377.64L636.93 372.76" stroke="#d40d52" stroke-width="1.12" fill="none"/>
<circle cx="639.83" cy="342.60" r="3.05" fill="none" stroke="#d40d52" stroke-width="1.05"/>
<path d="M636.38 342.60H643.28M639.83 339.15V346.05M637.39 340.16L642.27 345.04M637.39 345.04L642.27 340.16" stroke="#d40d52" stroke-width="1.12" fill="none"/>
<circle cx="645.16" cy="239.30" r="3.05" fill="none" stroke="#d40d52" stroke-width="1.05"/>
<path d="M641.71 239.30H648.61M645.16 235.85V242.75M642.73 236.86L647.60 241.74M642.73 241.74L647.60 236.86" stroke="#d40d52" stroke-width="1.12" fill="none"/>
<circle cx="650.50" cy="339.00" r="3.05" fill="none" stroke="#d40d52" stroke-width="1.05"/>
<path d="M647.05 339.00H653.95M650.50 335.55V342.45M648.06 336.56L652.94 341.44M648.06 341.44L652.94 336.56" stroke="#d40d52" stroke-width="1.12" fill="none"/>
<circle cx="655.84" cy="399.00" r="3.05" fill="none" stroke="#d40d52" stroke-width="1.05"/>
<path d="M652.39 399.00H659.29M655.84 395.55V402.45M653.40 396.56L658.27 401.44M653.40 401.44L658.27 396.56" stroke="#d40d52" stroke-width="1.12" fill="none"/>
</g>
<text x="53.5" y="97.0" font-size="16.2" fill="#262626" text-anchor="end" stroke="#262626" stroke-width="0.22">10</text>
<text x="53.5" y="198.7" font-size="16.2" fill="#262626" text-anchor="end" stroke="#262626" stroke-width="0.22">5</text>
<text x="53.5" y="301.7" font-size="16.2" fill="#262626" text-anchor="end" stroke="#262626" stroke-width="0.22">0</text>
<text x="52.0" y="404.8" font-size="16.2" fill="#262626" text-anchor="end" stroke="#262626" stroke-width="0.22">-5</text>
<text x="674.4" y="96.8" font-size="16.2" fill="#d40d52" text-anchor="middle" stroke="#d40d52" stroke-width="0.22">120</text>
<text x="674.4" y="198.9" font-size="16.2" fill="#d40d52" text-anchor="middle" stroke="#d40d52" stroke-width="0.22">80</text>
<text x="674.4" y="301.9" font-size="16.2" fill="#d40d52" text-anchor="middle" stroke="#d40d52" stroke-width="0.22">40</text>
<text x="674.4" y="404.8" font-size="16.2" fill="#d40d52" text-anchor="middle" stroke="#d40d52" stroke-width="0.22">0</text>
<text x="122.50" y="420.1" font-size="16.2" fill="#262626" text-anchor="middle" stroke="#262626" stroke-width="0.22">02/04</text>
<text x="228.60" y="420.1" font-size="16.2" fill="#262626" text-anchor="middle" stroke="#262626" stroke-width="0.22">02/09</text>
<text x="335.50" y="420.1" font-size="16.2" fill="#262626" text-anchor="middle" stroke="#262626" stroke-width="0.22">02/14</text>
<text x="442.50" y="420.1" font-size="16.2" fill="#262626" text-anchor="middle" stroke="#262626" stroke-width="0.22">02/19</text>
<text x="549.50" y="420.1" font-size="16.2" fill="#262626" text-anchor="middle" stroke="#262626" stroke-width="0.22">02/24</text>
<text x="655.80" y="420.1" font-size="16.2" fill="#262626" text-anchor="middle" stroke="#262626" stroke-width="0.22">03/01</text>
<text x="357.3" y="441.2" font-size="16.0" fill="#262626" text-anchor="middle" stroke="#262626" stroke-width="0.22">Feb.01,2019 00:00:00 start</text>
<text x="146.3" y="457.3" font-size="8" fill="#111" stroke="none" textLength="502.8" lengthAdjust="spacingAndGlyphs">data file: /Users/raeder/DAI/ATM_forcXX/CAM6_setup/f.e21.FHIST_BGC.f09_025.CAM6assim.011/Diags_NTrS_2019-02/obs_diag_output.nc</text>
<text x="186.6" y="42.1" font-size="16.5" font-weight="bold" fill="#000" stroke="#000" stroke-width="0.3" textLength="340.5" lengthAdjust="spacing">Southern Hemisphere 3898 / 3964 = 98.335%</text>
<text x="195.7" y="62.2" font-size="16.5" font-weight="bold" fill="#000" stroke="#000" stroke-width="0.3" textLength="321.3" lengthAdjust="spacing">ACARS_V_WIND_COMPONENT @ 200 hPa</text>
<text transform="translate(28.1 234.1) rotate(-90)" font-size="16.07" fill="#262626" text-anchor="middle" stroke="#262626" stroke-width="0.22">rmse and bias (model - observation)</text>
<text transform="translate(707 234.0) rotate(-90)" font-size="16.3" fill="#d40d52" text-anchor="middle" stroke="#d40d52" stroke-width="0.22"># of obs: o=possible; <tspan font-size="10" dy="-1.5" fill-opacity="0.75">∗</tspan><tspan dy="1.5">=assimilated</tspan></text>
</svg></body></html>
